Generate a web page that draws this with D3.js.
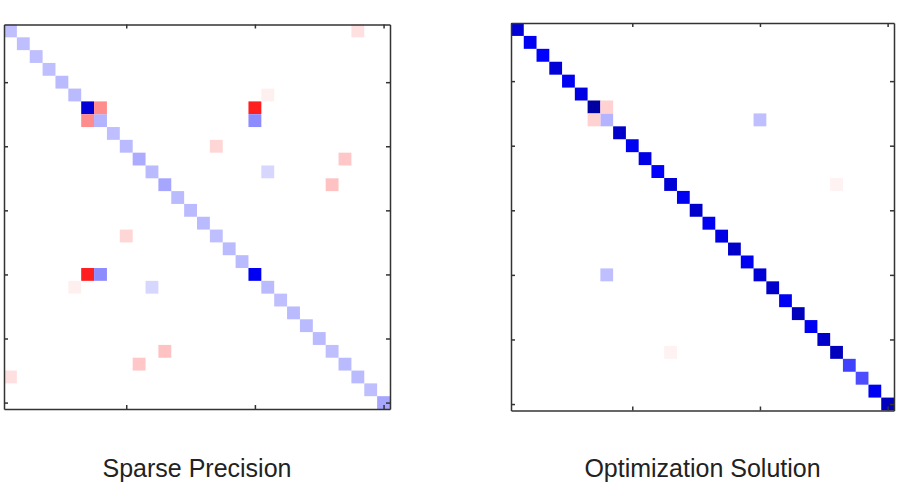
<!DOCTYPE html>
<html>
<head>
<meta charset="utf-8">
<script src="https://cdn.jsdelivr.net/npm/d3@7"></script>
<style>
  body { margin: 0; background: #fff; }
  .title { font-family: "Liberation Sans", Arial, sans-serif; font-size: 25px; fill: #222; }
  .frame path, .frame line { stroke: #333; stroke-width: 1.5; }
</style>
</head>
<body>
<svg id="chart" width="901" height="492"></svg>
<script>
  // matrix size (30 x 30), 1-based indices like the original plot
  var n = 30;
  var xTicks = [10, 20, 30];
  var yTicks = [5, 10, 15, 20, 25, 30];

  // left: sparse precision matrix
  var leftDiag = [0.25, 0.25, 0.25, 0.25, 0.27, 0.27, 1.15, 0.3, 0.25, 0.27,
                  0.33, 0.27, 0.35, 0.27, 0.27, 0.27, 0.25, 0.27, 0.27, 1.05,
                  0.27, 0.25, 0.27, 0.27, 0.27, 0.25, 0.27, 0.27, 0.25, 0.35];
  // upper-triangle entries [row, col, value] (mirrored below)
  var leftOff = [[1, 28, -0.12], [7, 8, -0.45], [7, 20, -0.88], [8, 20, 0.45],
                 [6, 21, -0.06], [10, 17, -0.16], [12, 21, 0.16],
                 [11, 27, -0.22], [13, 26, -0.24]];

  // right: optimization solution
  var rightDiag = [1.15, 1.05, 1.0, 1.15, 1.05, 1.1, 1.35, 0.3, 1.2, 1.05,
                   1.1, 1.0, 1.15, 1.05, 1.2, 1.05, 1.1, 1.2, 1.05, 1.15,
                   1.2, 1.05, 1.25, 1.05, 1.2, 1.25, 0.75, 0.7, 1.05, 1.25];
  var rightOff = [[7, 8, -0.18], [8, 20, 0.25], [13, 26, -0.05]];

  var titles = ["Sparse Precision", "Optimization Solution"];

  var color = d3.scaleLinear()
    .domain([-1, 0, 1, 1.5])
    .range(["#ff0000", "#ffffff", "#0000ff", "#00007a"])
    .clamp(true);

  function cells(diag, off) {
    var out = [];
    diag.forEach(function(v, i) { out.push({ r: i + 1, c: i + 1, v: v }); });
    off.forEach(function(d) {
      out.push({ r: d[0], c: d[1], v: d[2] });
      out.push({ r: d[1], c: d[0], v: d[2] });
    });
    return out;
  }

  var svg = d3.select("#chart");

  var panels = [
    { box: [4, 24.5, 390, 409], data: cells(leftDiag, leftOff), title: titles[0] },
    { box: [511, 23, 894, 410.5], data: cells(rightDiag, rightOff), title: titles[1] }
  ];

  panels.forEach(function(p) {
    var x = d3.scaleLinear().domain([0.5, n + 0.5]).range([p.box[0], p.box[2]]);
    var y = d3.scaleLinear().domain([0.5, n + 0.5]).range([p.box[1], p.box[3]]);
    var g = svg.append("g");

    g.selectAll("rect.cell")
      .data(p.data)
      .join("rect")
      .attr("class", "cell")
      .attr("x", function(d) { return x(d.c - 0.5); })
      .attr("y", function(d) { return y(d.r - 0.5); })
      .attr("width", function(d) { return x(d.c + 0.5) - x(d.c - 0.5); })
      .attr("height", function(d) { return y(d.r + 0.5) - y(d.r - 0.5); })
      .attr("fill", function(d) { return color(d.v); });

    var tk = -4;
    g.append("g").attr("class", "frame")
      .attr("transform", "translate(0," + p.box[3] + ")")
      .call(d3.axisBottom(x).tickValues(xTicks).tickSize(tk).tickSizeOuter(0).tickFormat(""));
    g.append("g").attr("class", "frame")
      .attr("transform", "translate(0," + p.box[1] + ")")
      .call(d3.axisTop(x).tickValues(xTicks).tickSize(tk).tickSizeOuter(0).tickFormat(""));
    g.append("g").attr("class", "frame")
      .attr("transform", "translate(" + p.box[0] + ",0)")
      .call(d3.axisLeft(y).tickValues(yTicks).tickSize(tk).tickSizeOuter(0).tickFormat(""));
    g.append("g").attr("class", "frame")
      .attr("transform", "translate(" + p.box[2] + ",0)")
      .call(d3.axisRight(y).tickValues(yTicks).tickSize(tk).tickSizeOuter(0).tickFormat(""));

    g.append("text")
      .attr("class", "title")
      .attr("x", (p.box[0] + p.box[2]) / 2)
      .attr("y", 477)
      .attr("text-anchor", "middle")
      .text(p.title);
  });
</script>
</body>
</html>
